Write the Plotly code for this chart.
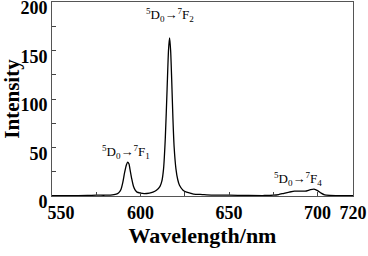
import plotly.graph_objects as go

wavelength = [550, 560, 570, 575, 580, 583, 585, 587, 588, 589, 590, 591, 592, 592.7, 593.5, 594, 595, 596, 597, 598,
              600, 602, 605, 607, 609, 611, 612, 613, 614, 615, 615.8, 616.4, 617, 617.6, 618.3, 619, 620, 621, 622,
              624, 626, 628, 630, 635, 640, 650, 660, 670, 675, 678, 681, 684, 687, 690, 693, 696, 698, 700, 702,
              704, 707, 712, 720]
intensity = [0.3, 0.3, 0.5, 0.8, 0.8, 1.0, 1.5, 2.5, 4, 7, 14, 24, 32, 35, 33, 28, 18, 10, 6, 4,
             3, 2.5, 3, 4, 6, 10, 15, 28, 60, 110, 150, 163, 150, 120, 80, 50, 28, 17, 11,
             6, 4, 3, 2, 1.5, 1.0, 0.8, 0.6, 0.5, 0.8, 1.5, 2.8, 4, 5, 5, 5, 6.5, 7, 5.5, 3,
             1.2, 0.6, 0.4, 0.4]

x_ticks = [550, 575, 600, 625, 650, 675, 700, 720]
x_ticktext = ["\u00a0\u00a0\u00a0\u00a0<b>550</b>", "", "<b>600</b>", "", "<b>650</b>", "", "<b>700</b>", "<b>720</b>"]
y_ticks = [0, 25, 50, 75, 100, 125, 150, 175, 200]
y_ticktext = ["<b>0</b>", "", "<b>50</b>", "", "<b>100</b>", "", "<b>150</b>", "", "<b>200</b>"]

labels = ["<sup>5</sup>D<sub>0</sub>\u2192<sup>7</sup>F<sub>1</sub>",
          "<sup>5</sup>D<sub>0</sub>\u2192<sup>7</sup>F<sub>2</sub>",
          "<sup>5</sup>D<sub>0</sub>\u2192<sup>7</sup>F<sub>4</sub>"]
label_x = [592, 616.5, 689]
label_y = [45, 187, 18]

SERIF = "Liberation Serif"

fig = go.Figure()
fig.add_trace(go.Scatter(x=wavelength, y=intensity, mode="lines",
                         line=dict(color="black", width=1.3, shape="spline", smoothing=0.6),
                         showlegend=False))

for t, xx, yy in zip(labels, label_x, label_y):
    fig.add_annotation(x=xx, y=yy, text=t, showarrow=False,
                       font=dict(family=SERIF, size=13, color="black"))

fig.update_layout(
    width=368, height=256,
    margin=dict(l=52, r=15, t=2, b=60),
    paper_bgcolor="white", plot_bgcolor="white",
    font=dict(family=SERIF, color="black"),
)
fig.update_xaxes(range=[550, 720], tickvals=x_ticks, ticktext=x_ticktext,
                 ticks="inside", ticklen=4, tickcolor="#444",
                 showline=True, linecolor="#555", linewidth=1, mirror=True,
                 showgrid=False, zeroline=False, automargin=False,
                 ticklabeloverflow="allow",
                 tickfont=dict(family=SERIF, size=18, color="black"),
                 title=dict(text="<b>Wavelength/nm</b>", font=dict(family=SERIF, size=22), standoff=6))
fig.update_yaxes(range=[0, 200], tickvals=y_ticks, ticktext=y_ticktext,
                 ticks="inside", ticklen=4, tickcolor="#444",
                 showline=True, linecolor="#555", linewidth=1, mirror=True,
                 showgrid=False, zeroline=False, ticklabelshift=6, automargin=False,
                 ticklabeloverflow="allow",
                 tickfont=dict(family=SERIF, size=18, color="black"),
                 title=dict(text="<b>Intensity</b>", font=dict(family=SERIF, size=21), standoff=4))

fig.write_html("out.html", config={"displayModeBar": False, "staticPlot": True},
               post_script="document.body.style.margin='0';document.body.style.overflow='hidden';")
